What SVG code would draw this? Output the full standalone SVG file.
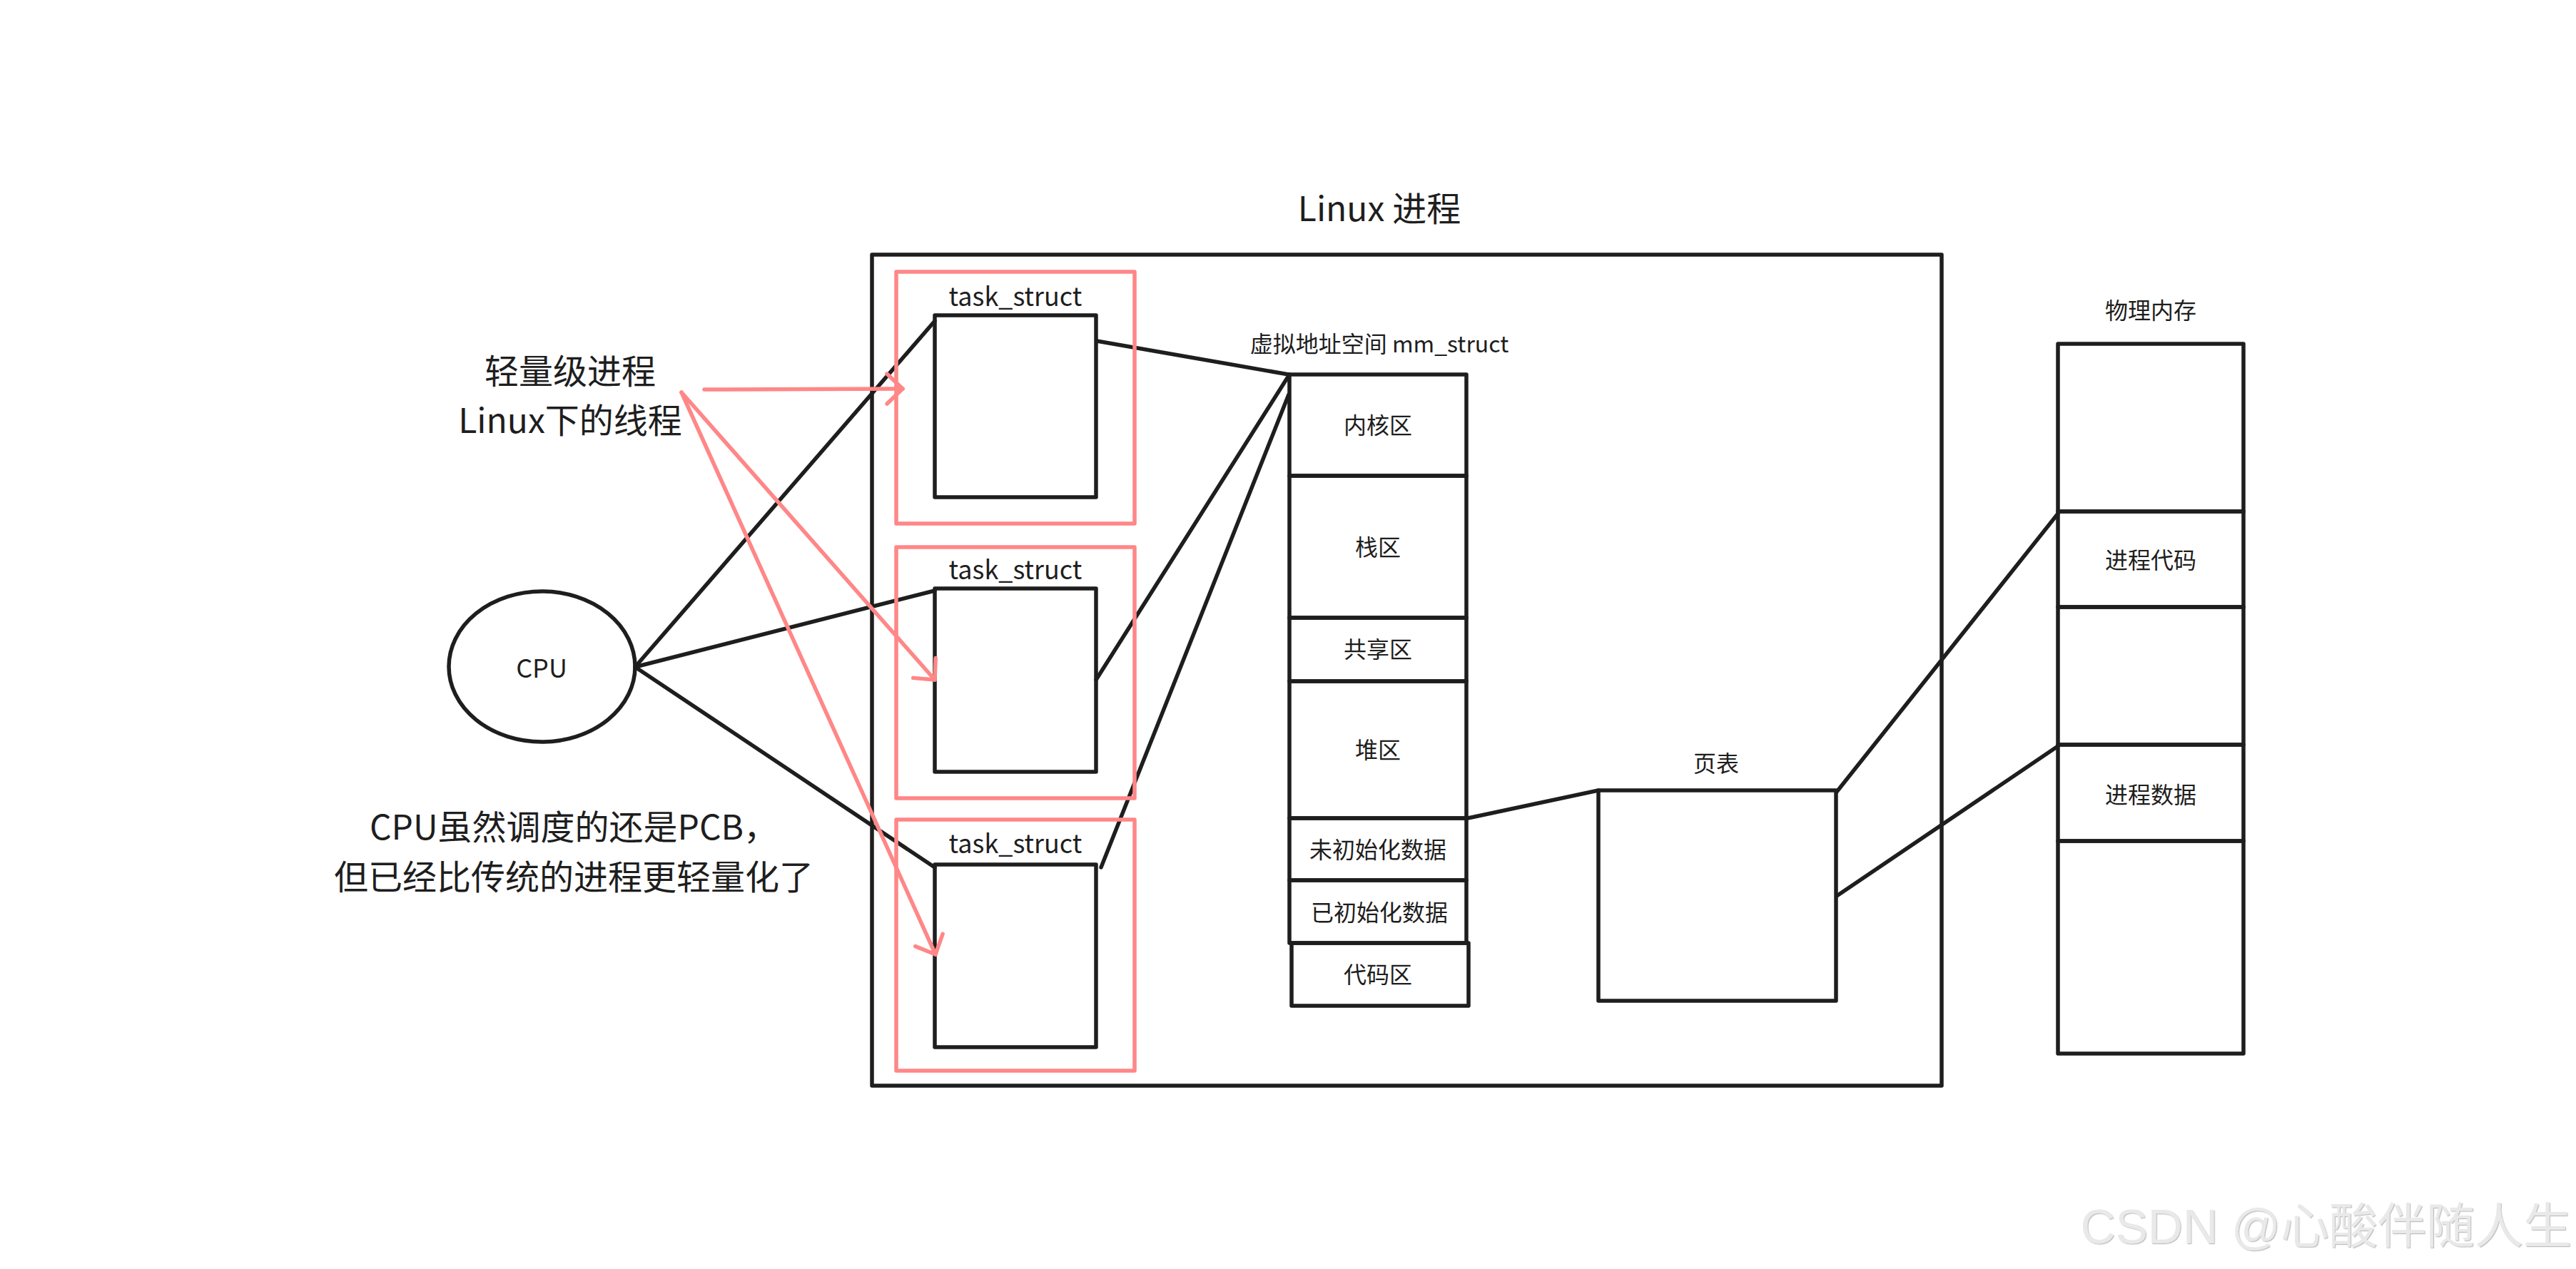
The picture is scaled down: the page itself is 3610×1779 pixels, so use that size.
<svg xmlns="http://www.w3.org/2000/svg" width="3610" height="1779" viewBox="0 0 3610 1779">
<defs>
<style>
.blk{fill:none;stroke:#1e1e1e;stroke-width:5.5;stroke-linecap:round;stroke-linejoin:round}
.red{fill:none;stroke:#ff8787;stroke-width:5.5;stroke-linecap:round;stroke-linejoin:round}
.t{font-family:"Noto Sans CJK SC","Noto Sans",sans-serif;fill:#1e1e1e;text-anchor:middle}
.s32{font-size:32px}
.s36{font-size:36px}
.s48{font-size:48px}
.wm{font-family:"Liberation Sans","Noto Sans CJK SC",sans-serif;font-size:68px;fill:#e9e9e9;text-anchor:end;filter:url(#sh)}
</style>
<marker id="ah" markerUnits="userSpaceOnUse" viewBox="-30 -30 40 60" refX="0" refY="0" markerWidth="40" markerHeight="60" orient="auto" overflow="visible">
<path d="M-22,-21 L0,0 L-22,21" fill="none" stroke="#ff8787" stroke-width="5.5" stroke-linecap="round" stroke-linejoin="round"/>
</marker>
<filter id="sh" x="-5%" y="-20%" width="110%" height="140%">
<feDropShadow dx="1.2" dy="1.2" stdDeviation="0.6" flood-color="#8a8a8a" flood-opacity="0.55"/>
</filter>
</defs>
<rect width="3610" height="1779" fill="#ffffff"/>

<g id="title">
<text class="t s48" x="1933" y="310">Linux 进程</text>
</g>

<g id="linux-process">
<rect class="blk" x="1222" y="357" width="1499" height="1165"/>
</g>

<g id="connectors">
<line class="blk" x1="890" y1="935" x2="1310" y2="450"/>
<line class="blk" x1="890" y1="935" x2="1310" y2="828"/>
<line class="blk" x1="890" y1="935" x2="1310" y2="1216"/>
<line class="blk" x1="1537" y1="478" x2="1806" y2="525"/>
<line class="blk" x1="1536" y1="953" x2="1807" y2="525"/>
<line class="blk" x1="1543" y1="1216" x2="1806" y2="553"/>
<line class="blk" x1="2057" y1="1147" x2="2240" y2="1108"/>
<line class="blk" x1="2574" y1="1110" x2="2884" y2="720"/>
<line class="blk" x1="2574" y1="1256" x2="2884" y2="1046"/>
</g>

<g id="thread-1">
<rect class="red" x="1256" y="381" width="334" height="353"/>
<rect class="blk" x="1310" y="442" width="226" height="255"/>
<text class="t s36" x="1423" y="429">task_struct</text>
</g>
<g id="thread-2">
<rect class="red" x="1256" y="767" width="334" height="352"/>
<rect class="blk" x="1310" y="825" width="226" height="257"/>
<text class="t s36" x="1423" y="812">task_struct</text>
</g>
<g id="thread-3">
<rect class="red" x="1256" y="1149" width="334" height="352"/>
<rect class="blk" x="1310" y="1212" width="226" height="256"/>
<text class="t s36" x="1423" y="1196">task_struct</text>
</g>

<g id="cpu">
<ellipse class="blk" cx="759.5" cy="934.5" rx="130.5" ry="105.5"/>
<text class="t s36" x="759" y="950">CPU</text>
</g>

<g id="note-lwp">
<text class="t s48" x="799" y="538">轻量级进程</text>
<text class="t s48" x="799" y="607">Linux下的线程</text>
</g>

<g id="note-pcb">
<text class="t s48" x="804" y="1177">CPU虽然调度的还是PCB，</text>
<text class="t s48" x="804" y="1247">但已经比传统的进程更轻量化了</text>
</g>

<g id="mm-struct">
<text class="t s32" x="1933" y="494">虚拟地址空间 mm_struct</text>
<rect class="blk" x="1807" y="525" width="248" height="142"/>
<rect class="blk" x="1807" y="667" width="248" height="199"/>
<rect class="blk" x="1807" y="866" width="248" height="89"/>
<rect class="blk" x="1807" y="955" width="248" height="192"/>
<rect class="blk" x="1807" y="1147" width="248" height="87"/>
<rect class="blk" x="1807" y="1234" width="248" height="88"/>
<rect class="blk" x="1810" y="1322" width="248" height="88"/>
<text class="t s32" x="1931" y="608">内核区</text>
<text class="t s32" x="1931" y="779">栈区</text>
<text class="t s32" x="1931" y="922">共享区</text>
<text class="t s32" x="1931" y="1063">堆区</text>
<text class="t s32" x="1931" y="1203">未初始化数据</text>
<text class="t s32" x="1933" y="1291">已初始化数据</text>
<text class="t s32" x="1931" y="1378">代码区</text>
</g>

<g id="page-table">
<text class="t s32" x="2405" y="1082">页表</text>
<rect class="blk" x="2240" y="1108" width="333" height="295"/>
</g>

<g id="physical-memory">
<text class="t s32" x="3014" y="447">物理内存</text>
<rect class="blk" x="2884" y="482" width="260" height="235"/>
<rect class="blk" x="2884" y="717" width="260" height="134"/>
<rect class="blk" x="2884" y="851" width="260" height="193"/>
<rect class="blk" x="2884" y="1044" width="260" height="135"/>
<rect class="blk" x="2884" y="1179" width="260" height="298"/>
<text class="t s32" x="3014" y="797">进程代码</text>
<text class="t s32" x="3014" y="1126">进程数据</text>
</g>

<g id="red-arrows">
<line class="red" x1="987" y1="546" x2="1265" y2="545" marker-end="url(#ah)"/>
<line class="red" x1="955" y1="550" x2="1310" y2="953" marker-end="url(#ah)"/>
<line class="red" x1="955" y1="550" x2="1311" y2="1338" marker-end="url(#ah)"/>
</g>

<g id="watermark">
<text class="wm" x="3604" y="1743">CSDN @心酸伴随人生</text>
</g>
</svg>
